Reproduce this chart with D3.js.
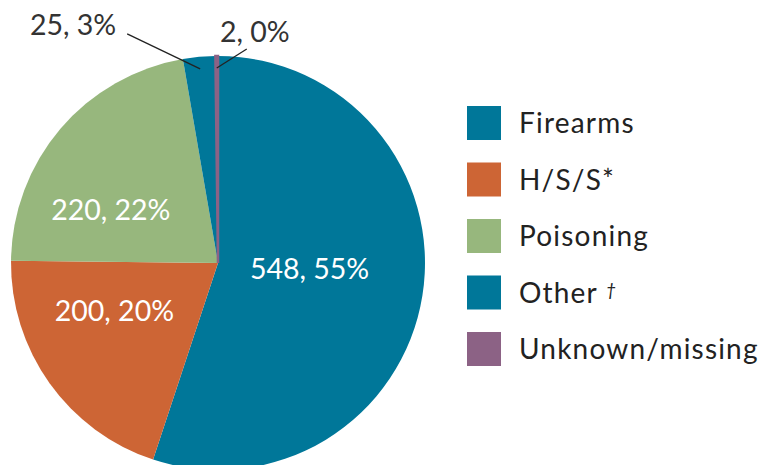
<!DOCTYPE html>
<html>
<head>
<meta charset="utf-8">
<script src="https://cdn.jsdelivr.net/npm/d3@7"></script>
<style>
  body { margin: 0; background: #fff; }
  svg { display: block; font-family: "Lato", "DejaVu Sans", sans-serif; }
</style>
</head>
<body>
<div id="chart"></div>
<script>
const categories = ["Firearms", "H/S/S*", "Poisoning", "Other", "Unknown/missing"];
const counts = [548, 200, 220, 25, 2];
const percents = [55, 20, 22, 3, 0];
const colors = ["#007799", "#cd6535", "#97b77d", "#007799", "#8c6285"];

const width = 767;
const height = 465;
const cx = 218;
const cy = 263;
const radius = 207;

const svg = d3
  .select("#chart")
  .append("svg")
  .attr("width", width)
  .attr("height", height);

const g = svg.append("g").attr("transform", `translate(${cx},${cy})`);

const pie = d3.pie().sort(null).value((d) => d);
const data_ready = pie(counts);

const arc = d3.arc().innerRadius(0).outerRadius(radius);

g.selectAll("path")
  .data(data_ready)
  .enter()
  .append("path")
  .attr("d", arc)
  .attr("fill", (d) => colors[d.index])
  .attr("stroke", (d) => (d.index === 4 ? colors[4] : "none"))
  .attr("stroke-width", 2.5);

// labels inside the big slices
const inner = d3.arc().innerRadius(112).outerRadius(112);
const nudge = { 0: [-19, -12], 1: [-12.5, -17.5], 2: [-22, 19.5] };
g.selectAll(".in-label")
  .data(data_ready.filter((d) => d.index < 3))
  .enter()
  .append("text")
  .attr("class", "in-label")
  .attr("x", (d) => inner.centroid(d)[0] + nudge[d.index][0])
  .attr("y", (d) => inner.centroid(d)[1] + nudge[d.index][1])
  .attr("text-anchor", "middle")
  .attr("dy", "0.35em")
  .style("fill", "#fff")
  .style("font-size", "28.5px")
  .text((d) => `${counts[d.index]}, ${percents[d.index]}%`);

// small slices: label outside with a leader line
const edge = d3.arc().innerRadius(radius - 12).outerRadius(radius - 12);
const outside = {
  3: { line: [-73, -35], text: [-84, -34], anchor: "end" },
  4: { line: [30, -19], text: [38, -26], anchor: "middle" },
};
data_ready
  .filter((d) => d.index >= 3)
  .forEach((d) => {
    const [px, py] = edge.centroid(d);
    const o = outside[d.index];
    g.append("line")
      .attr("x1", px)
      .attr("y1", py)
      .attr("x2", px + o.line[0])
      .attr("y2", py + o.line[1])
      .attr("stroke", "#222")
      .attr("stroke-width", 1.3);
    g.append("text")
      .attr("x", px + o.text[0])
      .attr("y", py + o.text[1])
      .attr("text-anchor", o.anchor)
      .style("fill", "#333")
      .style("font-size", "28.5px")
      .text(`${counts[d.index]}, ${percents[d.index]}%`);
  });

// legend
const legend = svg
  .append("g")
  .attr("transform", "translate(467,106)")
  .selectAll("g")
  .data(categories)
  .enter()
  .append("g")
  .attr("transform", (d, i) => `translate(0,${i * 56.5})`);

legend
  .append("rect")
  .attr("width", 34)
  .attr("height", 34)
  .attr("fill", (d, i) => colors[i]);

const legendText = legend
  .append("text")
  .attr("x", 52)
  .attr("y", 17)
  .attr("dy", "0.36em")
  .style("fill", "#222")
  .style("font-size", "28px")
  .style("letter-spacing", "1.2px")
  .text((d) => (d === "Other" ? "Other " : d));

legendText
  .filter((d) => d === "Other")
  .append("tspan")
  .attr("dy", "-0.35em")
  .style("font-size", "18px")
  .style("font-style", "italic")
  .text("†");
</script>
</body>
</html>
